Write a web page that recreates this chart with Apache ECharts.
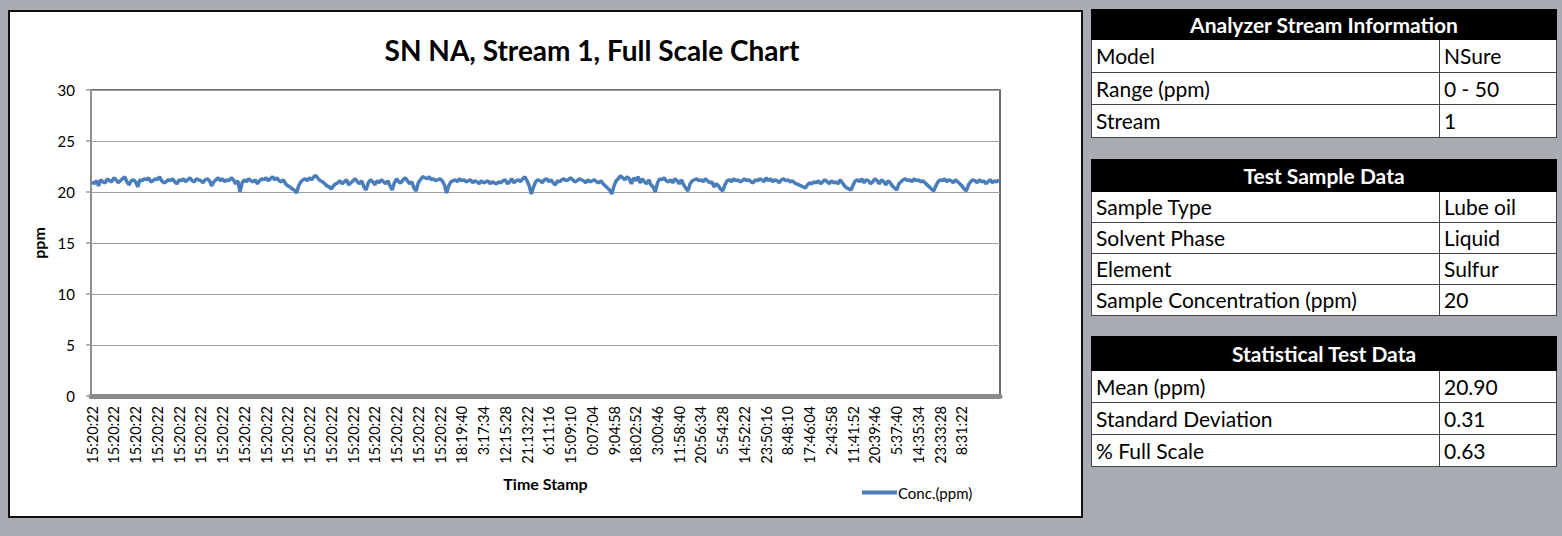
<!DOCTYPE html>
<html>
<head>
<meta charset="utf-8">
<script src="https://cdn.jsdelivr.net/npm/echarts@6/dist/echarts.min.js"></script>
<style>
  html, body { margin: 0; padding: 0; }
  body { width: 1562px; height: 536px; background: #a8abb2; position: relative; overflow: hidden; font-family: Lato, "Open Sans", sans-serif; }
  #panel { position: absolute; left: 8px; top: 10px; width: 1071px; height: 504px; border: 2px solid #111; background: #fff; }
  #chart { position: absolute; left: 0; top: 0; width: 1562px; height: 536px; }
  table.info { position: absolute; left: 1091px; width: 466px; border-collapse: collapse; background: #fff; font-family: Lato, sans-serif; }
  table.info th { background: #000; color: #fff; font-weight: bold; font-size: 21px; padding: 0; text-align: center; border: 1px solid #000; }
  table.info td { font-size: 21px; color: #000; padding: 0 0 0 4px; border: 1px solid #444; }
  table.info td.v { width: 112px; }
</style>
</head>
<body>
<div id="panel"></div>
<div id="chart"></div>
<div id="tables"></div>
<script>
// ---- Data ----
const chartTitle = 'SN NA, Stream 1, Full Scale Chart';
const seriesName = 'Conc.(ppm)';
const yTicks = [0, 5, 10, 15, 20, 25, 30];
const tickLabels = [
  '15:20:22','15:20:22','15:20:22','15:20:22','15:20:22','15:20:22','15:20:22','15:20:22','15:20:22',
  '15:20:22','15:20:22','15:20:22','15:20:22','15:20:22','15:20:22','15:20:22','15:20:22',
  '18:19:40','3:17:34','12:15:28','21:13:22','6:11:16','15:09:10','0:07:04','9:04:58','18:02:52',
  '3:00:46','11:58:40','20:56:34','5:54:28','14:52:22','23:50:16','8:48:10','17:46:04','2:43:58',
  '11:41:52','20:39:46','5:37:40','14:35:34','23:33:28','8:31:22'
];
const pointsPerLabel = 10;
const concValues = [
  21.0,20.8,21.1,20.6,21.2,21.0,20.9,21.3,21.1,21.0,21.4,21.2,20.9,21.1,21.3,21.5,21.0,20.7,21.1,21.2,
  21.0,20.5,21.2,21.1,21.3,21.2,21.4,21.0,21.1,21.3,21.2,21.5,21.1,20.9,21.0,21.2,21.1,21.3,21.0,20.8,
  21.2,21.1,21.3,21.0,21.2,21.4,21.1,21.0,21.3,21.2,21.1,20.9,21.2,21.3,21.1,20.6,21.0,21.2,21.4,21.1,
  21.3,21.0,21.2,21.1,21.4,21.2,20.8,21.1,20.0,20.9,21.2,21.0,21.3,21.1,21.0,21.2,20.8,21.1,21.3,21.2,
  21.4,21.1,21.3,21.5,21.2,21.4,21.1,21.0,21.2,20.8,20.6,20.5,20.3,20.2,19.9,20.6,21.0,21.2,21.3,21.1,
  21.4,21.2,21.5,21.6,21.3,21.1,21.0,20.8,20.6,20.5,20.3,20.6,20.8,20.9,21.1,20.8,21.0,21.2,20.7,20.9,
  21.1,21.3,21.0,20.8,21.1,20.5,20.2,20.9,21.2,21.0,20.7,21.1,20.9,21.2,21.0,20.8,21.1,20.6,20.2,20.9,
  21.3,21.0,20.9,21.2,21.4,21.1,20.8,21.0,20.4,20.1,20.9,21.2,21.5,21.4,21.3,21.5,21.2,21.3,21.1,21.2,
  21.3,21.1,20.7,19.9,20.6,21.0,21.1,21.2,21.0,21.3,21.1,21.2,21.0,21.1,21.2,20.9,21.1,21.0,20.8,21.1,
  20.9,21.0,21.1,20.8,21.0,20.9,20.8,21.0,20.9,21.1,21.2,20.8,21.0,21.3,20.9,21.1,21.2,21.0,21.3,21.5,
  21.1,20.6,19.8,20.5,21.0,21.2,21.1,20.9,21.2,21.3,21.0,21.2,20.9,20.7,21.1,21.0,21.2,21.3,21.1,21.2,
  21.4,21.2,21.0,21.1,21.3,21.2,21.1,20.9,21.2,21.0,21.1,21.2,21.0,20.9,21.1,20.8,20.6,20.4,20.2,19.8,
  20.6,21.1,21.3,21.6,21.4,21.2,21.5,21.3,20.8,21.4,21.1,21.5,20.9,21.3,21.0,20.8,21.2,20.7,20.5,20.0,
  20.9,21.3,21.2,21.4,21.1,21.0,21.2,20.9,21.3,21.1,20.8,21.2,20.7,20.4,20.1,20.8,21.1,21.2,21.3,21.1,
  21.2,21.0,21.3,21.1,20.9,21.0,20.5,20.8,20.6,20.3,20.1,20.7,21.1,21.2,21.0,21.3,21.1,21.2,21.0,21.1,
  21.3,21.1,21.2,21.0,20.9,21.2,21.1,21.3,21.2,21.0,21.4,21.1,21.3,21.0,21.2,21.1,20.9,21.2,21.3,21.1,
  21.2,21.0,21.1,20.9,20.8,20.7,20.6,20.5,20.4,20.7,20.9,20.8,21.0,20.9,21.1,20.8,21.0,21.2,21.0,20.8,
  21.1,20.9,21.0,20.8,21.2,20.9,20.6,20.4,20.3,20.2,20.7,21.1,21.2,21.0,21.3,20.9,21.2,21.1,20.8,21.0,
  21.3,21.1,20.8,21.2,21.0,20.7,21.1,20.9,20.6,20.4,20.2,20.8,21.0,21.2,21.3,21.1,21.2,21.0,21.3,21.1,
  21.2,21.0,21.1,20.9,20.7,20.5,20.3,20.1,20.6,21.0,21.2,21.1,21.3,21.0,21.2,21.1,20.9,21.2,21.0,20.8,
  20.6,20.3,20.1,20.7,21.0,21.2,21.1,20.9,21.2,21.0,21.1,20.8,21.0,21.2,20.9,21.1,21.0,21.2
];
const streamInfo = { title: 'Analyzer Stream Information', rows: [['Model', 'NSure'], ['Range (ppm)', '0 - 50'], ['Stream', '1']] };
const sampleInfo = { title: 'Test Sample Data', rows: [['Sample Type', 'Lube oil'], ['Solvent Phase', 'Liquid'], ['Element', 'Sulfur'], ['Sample Concentration (ppm)', '20']] };
const statInfo = { title: 'Statistical Test Data', rows: [['Mean (ppm)', '20.90'], ['Standard Deviation', '0.31'], ['% Full Scale', '0.63']] };

// ---- Tables ----
function makeTable(info, top, headH, rowH) {
  const t = document.createElement('table');
  t.className = 'info';
  t.style.top = top + 'px';
  let html = '<tr><th colspan="2" style="height:' + headH + 'px;line-height:' + headH + 'px">' + info.title + '</th></tr>';
  info.rows.forEach(r => {
    const st = 'height:' + rowH + 'px;line-height:' + rowH + 'px';
    html += '<tr><td style="' + st + '">' + r[0] + '</td><td class="v" style="' + st + '">' + r[1] + '</td></tr>';
  });
  t.innerHTML = html;
  document.getElementById('tables').appendChild(t);
}
makeTable(streamInfo, 9, 29, 31.5);
makeTable(sampleInfo, 159, 31, 30);
makeTable(statInfo, 336, 33, 31);

// ---- Chart ----
const categories = concValues.map((v, i) => tickLabels[Math.floor(i / pointsPerLabel)] || '');
const chart = echarts.init(document.getElementById('chart'), null, { renderer: 'svg' });
const font = 'Lato, "Open Sans", sans-serif';
chart.setOption({
  backgroundColor: 'transparent',
  animation: false,
  title: {
    text: chartTitle, left: 587, top: 31, textAlign: 'center',
    textStyle: { fontFamily: font, fontSize: 28, fontWeight: 'bold', color: '#000' }
  },
  legend: {
    left: 857, top: 480, icon: 'rect', itemWidth: 35, itemHeight: 4, itemGap: 2,
    textStyle: { fontFamily: font, fontSize: 15, color: '#000', padding: [0, 0, 0, -4] },
    data: [seriesName]
  },
  grid: {
    left: 91, top: 90, width: 909, height: 306,
    show: true, borderColor: '#3c3c3c', borderWidth: 1.5, backgroundColor: 'transparent'
  },
  xAxis: {
    type: 'category', data: categories, boundaryGap: true,
    name: 'Time Stamp', nameLocation: 'middle', nameGap: 79,
    nameTextStyle: { fontFamily: font, fontSize: 16, fontWeight: 'bold', color: '#000' },
    axisLine: { show: true, lineStyle: { color: '#8a8a8a', width: 5 } },
    axisTick: { show: false },
    axisLabel: { interval: pointsPerLabel - 1, rotate: 90, margin: 10, fontFamily: font, fontSize: 14.5, color: '#000' },
    splitLine: { show: false }
  },
  yAxis: {
    type: 'value', min: yTicks[0], max: yTicks[yTicks.length - 1], interval: 5,
    name: 'ppm', nameLocation: 'middle', nameGap: 37, nameRotate: 90,
    nameTextStyle: { fontFamily: font, fontSize: 16, fontWeight: 'bold', color: '#000' },
    axisLine: { show: true, lineStyle: { color: '#9a9a9a', width: 1.5 } },
    axisTick: { show: true, length: 5, lineStyle: { color: '#9a9a9a', width: 1.5 } },
    axisLabel: { fontFamily: font, fontSize: 15, color: '#000', margin: 16 },
    splitLine: { show: true, lineStyle: { color: '#a0a0a0', width: 1.2 } }
  },
  series: [{
    name: seriesName, type: 'line', data: concValues, symbol: 'none',
    lineStyle: { color: '#4a7ebb', width: 3.5 }, itemStyle: { color: '#4a7ebb' }
  }]
});
</script>
</body>
</html>
